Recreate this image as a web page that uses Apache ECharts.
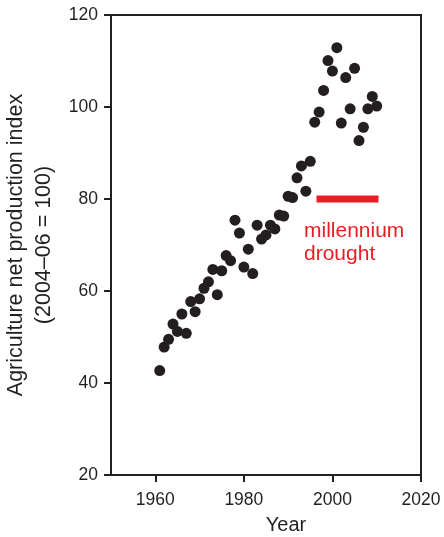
<!DOCTYPE html>
<html>
<head>
<meta charset="utf-8">
<script src="https://cdn.jsdelivr.net/npm/echarts@6/dist/echarts.min.js"></script>
<style>
html,body{margin:0;padding:0;background:#fff;}
#chart{width:444px;height:537px;}
</style>
</head>
<body>
<div id="chart"></div>
<script>
const years = [1961,1962,1963,1964,1965,1966,1967,1968,1969,1970,
  1971,1972,1973,1974,1975,1976,1977,1978,1979,1980,
  1981,1982,1983,1984,1985,1986,1987,1988,1989,1990,
  1991,1992,1993,1994,1995,1996,1997,1998,1999,2000,
  2001,2002,2003,2004,2005,2006,2007,2008,2009,2010];
const index = [42.7,47.8,49.5,52.8,51.2,55.0,50.8,57.7,55.5,58.3,
  60.6,62.0,64.7,59.2,64.4,67.7,66.6,75.4,72.6,65.2,
  69.1,63.8,74.3,71.3,72.2,74.3,73.5,76.5,76.3,80.6,
  80.3,84.6,87.2,81.7,88.2,96.7,98.9,103.6,110.1,107.8,
  112.9,96.5,106.4,99.6,108.4,92.7,95.6,99.6,102.3,100.2];
const droughtYears = [1996.4, 2010.4];
const droughtLevel = [80, 80];
const xTicks = [1960, 1980, 2000, 2020];
const droughtLabel = 'millennium\ndrought';

const ink = '#231f20';
const red = '#ed1c24';
const font = '"Liberation Sans", Arial, Helvetica, sans-serif';

const chart = echarts.init(document.getElementById('chart'), null, {renderer: 'canvas'});
chart.setOption({
  animation: false,
  backgroundColor: '#fff',
  grid: {left: 111, right: 23, top: 15, bottom: 62, containLabel: false, outerBoundsMode: 'none',
    show: true, borderColor: ink, borderWidth: 2, backgroundColor: 'transparent'},
  xAxis: {
    type: 'value', min: 1950, max: 2020,
    name: 'Year', nameLocation: 'middle', nameGap: 40,
    nameTextStyle: {fontFamily: font, fontSize: 20, color: ink, padding: [0, 0, 0, 40]},
    axisLine: {show: true, lineStyle: {color: ink, width: 2}},
    axisTick: {show: true, inside: false, length: 7, lineStyle: {color: ink, width: 2}, customValues: xTicks},
    axisLabel: {show: true, margin: 16, fontFamily: font, fontSize: 17.5, color: ink, customValues: xTicks,
      formatter: v => String(v)},
    splitLine: {show: false}
  },
  yAxis: {
    type: 'value', min: 20, max: 120, interval: 20,
    name: 'Agriculture net production index\n(2004\u201306 = 100)',
    nameLocation: 'middle', nameGap: 45,
    nameTextStyle: {fontFamily: font, fontSize: 21.5, lineHeight: 28, color: ink, align: 'center'},
    axisLine: {show: true, lineStyle: {color: ink, width: 2}},
    axisTick: {show: true, inside: false, length: 7, lineStyle: {color: ink, width: 2}},
    axisLabel: {show: true, margin: 13, fontFamily: font, fontSize: 17.5, color: ink},
    splitLine: {show: false}
  },
  series: [
    {
      type: 'scatter',
      data: years.map((y, i) => [y, index[i]]),
      symbol: 'circle', symbolSize: 11,
      itemStyle: {color: ink, opacity: 1},
      z: 3
    },
    {
      type: 'line',
      data: droughtYears.map((y, i) => [y, droughtLevel[i]]),
      symbol: 'none',
      lineStyle: {color: red, width: 7, cap: 'butt'},
      z: 2
    }
  ],
  graphic: [{
    type: 'text', left: 304, top: 220, z: 10,
    style: {text: droughtLabel, fill: red, font: '21px ' + font, lineHeight: 23}
  }]
});
</script>
</body>
</html>
